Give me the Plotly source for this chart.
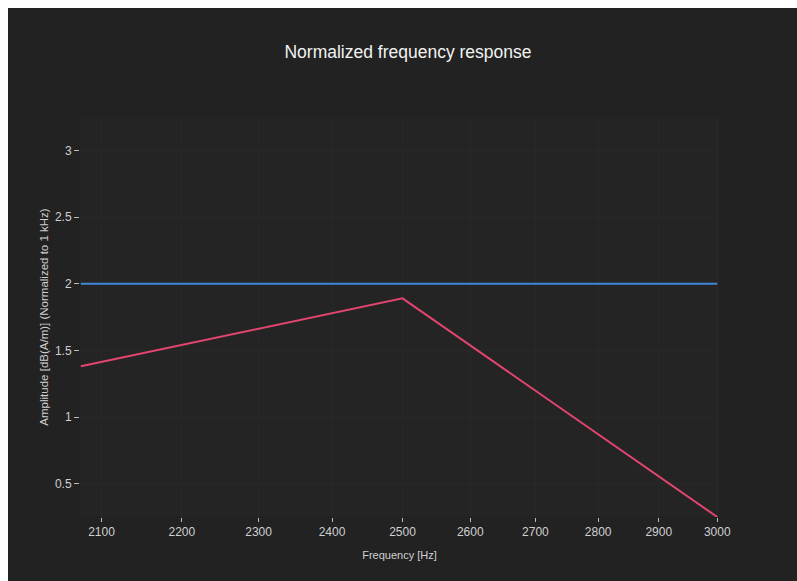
import math
import plotly.graph_objects as go

# Data
frequency_hz = [2075, 2500, 3000]
reference_level = [2.0, 2.0, 2.0]
normalized_response = [1.38, 1.89, 0.25]

x_tick_vals = [2100, 2200, 2300, 2400, 2500, 2600, 2700, 2800, 2900, 3000]
y_tick_vals = [0.5, 1, 1.5, 2, 2.5, 3]

FONT = "Liberation Sans, Arial, sans-serif"
W, H = 789, 573

fig = go.Figure()
fig.add_trace(go.Scatter(x=frequency_hz, y=reference_level, mode="lines",
                         line=dict(color="#3f86db", width=2), showlegend=False))
fig.add_trace(go.Scatter(x=frequency_hz, y=normalized_response, mode="lines",
                         line=dict(color="#e2456e", width=2), showlegend=False))

fig.update_layout(
    width=W, height=H,
    paper_bgcolor="#222222", plot_bgcolor="#242424",
    margin=dict(l=72, r=78, t=109, b=64),
    font=dict(family=FONT, color="#d0d0d0", size=12),
    title=dict(text="Normalized frequency response", x=400 / W, xanchor="center",
               y=1 - 44 / H, yanchor="middle",
               font=dict(family=FONT, size=17.5, color="#f2f2f2")),
    xaxis=dict(type="log", range=[math.log10(2074), math.log10(3003)],
               tickvals=x_tick_vals, ticktext=[str(v) for v in x_tick_vals],
               ticks="outside", ticklen=4, tickcolor="#bbbbbb",
               showgrid=True, gridcolor="#282828", zeroline=False, showline=False,
               tickfont=dict(size=12, color="#d0d0d0"),
               title=dict(text="Frequency [Hz]", font=dict(size=11, color="#d0d0d0"), standoff=12)),
    yaxis=dict(range=[0.25, 3.25], tickvals=y_tick_vals,
               ticks="outside", ticklen=5, tickcolor="#bbbbbb",
               showgrid=True, gridcolor="#282828", zeroline=False, showline=False,
               tickfont=dict(size=12, color="#d0d0d0"),
               title=dict(text="Amplitude [dB(A/m)] (Normalized to 1 kHz)",
                          font=dict(size=11.5, color="#d0d0d0"), standoff=3)),
)

fig.write_html("out.html",
               post_script=("document.documentElement.style.overflow='hidden';"
                            "document.body.style.margin='8px 0 0 8px';"))
